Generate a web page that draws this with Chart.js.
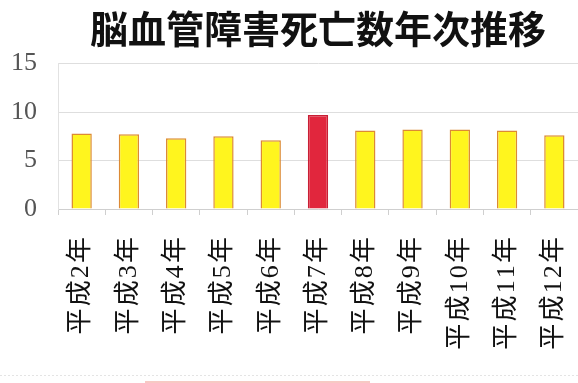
<!DOCTYPE html>
<html lang="ja">
<head>
<meta charset="utf-8">
<title>脳血管障害死亡数年次推移</title>
<script src="https://cdn.jsdelivr.net/npm/chart.js@4/dist/chart.umd.min.js"></script>
<style>
  html, body { margin: 0; padding: 0; background: #fff; }
  #wrap { width: 578px; height: 383px; position: relative; }
</style>
</head>
<body>
<div id="wrap"><canvas id="chart"></canvas></div>
<script>
// Deaths by year (Heisei 2 - 12)
const years = ['平成2年', '平成3年', '平成4年', '平成5年', '平成6年', '平成7年',
  '平成8年', '平成9年', '平成10年', '平成11年', '平成12年'];
const deaths = [7.8, 7.7, 7.3, 7.5, 7.1, 9.7, 8.1, 8.2, 8.2, 8.1, 7.6];
const highlightYear = '平成7年';
const yTicks = [0, 5, 10, 15];

const YELLOW = '#fff51e';
const YELLOW_EDGE = '#dc8a34';
const RED = '#e1263d';
const RED_EDGE = '#c81e34';
const GRID = '#dedede';

// faint rules along the bottom edge
const bottomRules = {
  id: 'bottomRules',
  afterDraw(chart) {
    const ctx = chart.ctx;
    ctx.save();
    ctx.strokeStyle = '#e4e4e4';
    ctx.setLineDash([2, 2]);
    ctx.beginPath();
    ctx.moveTo(0, 375.5);
    ctx.lineTo(chart.width, 375.5);
    ctx.stroke();
    ctx.setLineDash([]);
    ctx.strokeStyle = '#f7c9c4';
    ctx.lineWidth = 2;
    ctx.beginPath();
    ctx.moveTo(145, 382);
    ctx.lineTo(370, 382);
    ctx.stroke();
    ctx.restore();
  }
};

new Chart(document.getElementById('chart'), {
  type: 'bar',
  data: {
    labels: years,
    datasets: [{
      data: deaths,
      backgroundColor: years.map(y => y === highlightYear ? RED : YELLOW),
      borderColor: years.map(y => y === highlightYear ? RED_EDGE : YELLOW_EDGE),
      borderWidth: 1.5,
      borderSkipped: 'bottom',
      barPercentage: 0.43,
      categoryPercentage: 1,
    }],
  },
  options: {
    responsive: true,
    maintainAspectRatio: false,
    animation: false,
    layout: { padding: { left: 0, right: 0, top: 0, bottom: 0 } },
    plugins: {
      legend: { display: false },
      tooltip: { enabled: false },
      title: {
        display: true,
        text: '脳血管障害死亡数年次推移',
        color: '#111',
        fullSize: false,
        font: { family: "'Noto Sans CJK JP', sans-serif", size: 38, weight: 'bold', lineHeight: 1.2 },
        padding: { top: 6, bottom: 12 },
      },
    },
    scales: {
      x: {
        afterFit: (s) => {
          s.height = 174;
          s.paddingLeft = 0;
          s.paddingRight = 0;
        },
        grid: {
          offset: true,
          drawOnChartArea: false,
          drawTicks: true,
          tickLength: 6,
          color: '#cfcfcf',
        },
        border: { color: '#cfcfcf' },
        ticks: {
          minRotation: 90,
          maxRotation: 90,
          padding: 22,
          color: '#111',
          // hair spaces loosen the vertical labels a little
          callback: (v, i) => years[i].split('').join('\u200A'),
          font: { family: "'Liberation Serif', 'Noto Sans CJK JP', serif", size: 26 },
        },
      },
      y: {
        min: 0,
        max: 15,
        afterFit: (s) => { s.width = 58; },
        afterBuildTicks: (s) => { s.ticks = yTicks.map(v => ({ value: v })); },
        grid: { color: GRID, drawTicks: false },
        border: { color: '#e2e2e2' },
        ticks: {
          padding: 21,
          color: '#555',
          font: { family: "'Liberation Serif', serif", size: 26 },
        },
      },
    },
  },
  plugins: [bottomRules],
});
</script>
</body>
</html>
